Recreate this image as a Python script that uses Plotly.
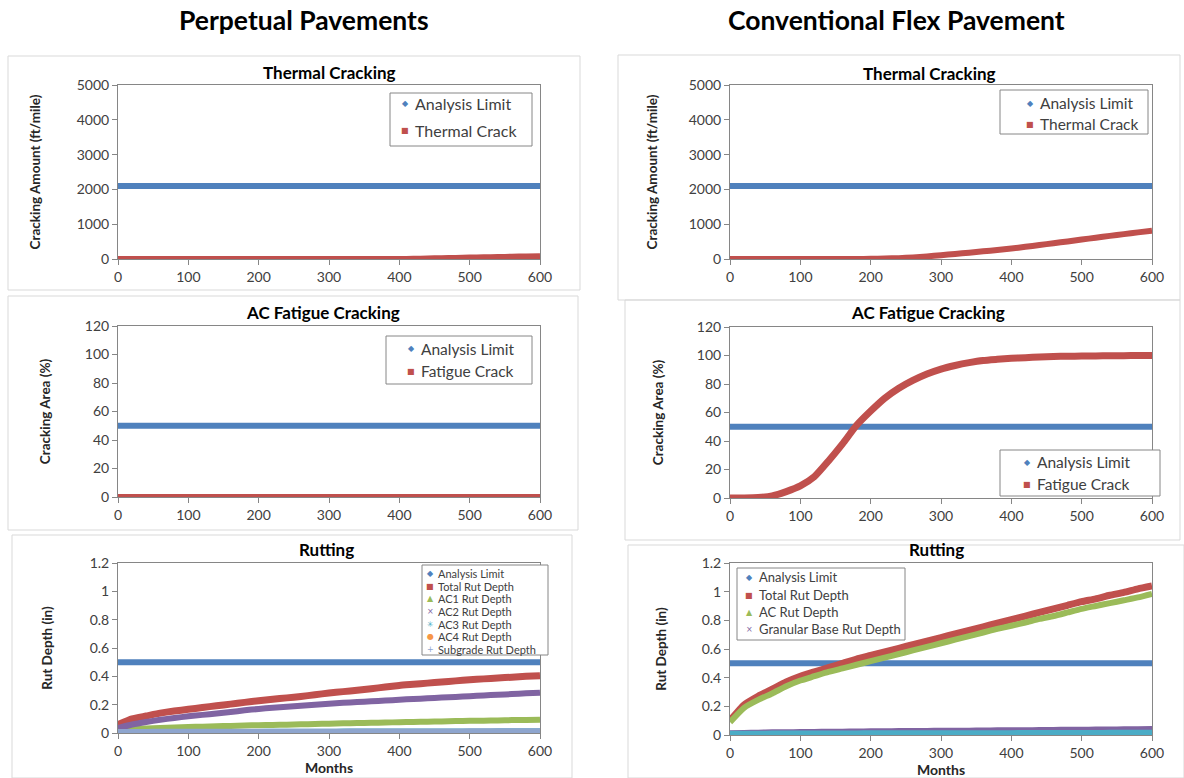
import plotly.graph_objects as go

# ---------------------------------------------------------------- data
months = [0, 20, 40, 60, 80, 100, 120, 140, 160, 180, 200, 220, 240, 260, 280, 300,
          320, 340, 360, 380, 400, 420, 440, 460, 480, 500, 520, 540, 560, 580, 600]
limit_months = [0, 600]

# Thermal cracking (ft/mile)
thermal_limit = [2100, 2100]
thermal_perpetual = [0, 0, 0, 0, 0, 0, 0, 0, 0, 0, 0, 0, 0, 0, 0, 0,
                     0, 0, 0, 0, 0, 5, 15, 22, 30, 40, 48, 56, 65, 72, 80]
thermal_conventional = [0, 0, 0, 0, 0, 0, 0, 0, 0, 2, 5, 12, 25, 45, 75, 110,
                        145, 180, 220, 260, 300, 350, 400, 455, 505, 560, 610, 665, 715, 765, 810]

# AC fatigue cracking (%)
fatigue_limit = [50, 50]
fatigue_perpetual = [0, 0, 0, 0, 0, 0, 0, 0, 0, 0, 0, 0, 0, 0, 0, 0,
                     0, 0, 0, 0, 0, 0, 0, 0, 0, 0, 0, 0, 0, 0, 0]
fatigue_conventional = [0, 0, 0.3, 1.5, 4.5, 8.5, 15, 26, 38, 51, 61, 70, 77, 82.5, 87, 90.5,
                        93, 95, 96.5, 97.3, 98, 98.5, 99, 99.3, 99.5, 99.6, 99.7, 99.8, 99.9, 100, 100]

# Rutting (in)
rut_limit = [0.5, 0.5]
pp_total = [0.06, 0.10, 0.12, 0.14, 0.155, 0.167, 0.18, 0.192, 0.204, 0.216, 0.228, 0.238, 0.248,
            0.258, 0.27, 0.282, 0.292, 0.302, 0.313, 0.324, 0.336, 0.344, 0.352, 0.36, 0.368,
            0.376, 0.382, 0.388, 0.394, 0.40, 0.405]
pp_ac1 = [0.022, 0.028, 0.032, 0.036, 0.039, 0.042, 0.045, 0.048, 0.05, 0.053, 0.055, 0.057, 0.059,
          0.061, 0.063, 0.066, 0.068, 0.07, 0.072, 0.074, 0.076, 0.078, 0.08, 0.082, 0.084, 0.086,
          0.087, 0.089, 0.091, 0.092, 0.094]
pp_ac2 = [0.035, 0.06, 0.078, 0.093, 0.106, 0.118, 0.128, 0.138, 0.148, 0.16, 0.17, 0.178, 0.185,
          0.192, 0.2, 0.207, 0.213, 0.218, 0.224, 0.229, 0.235, 0.24, 0.245, 0.25, 0.255, 0.26,
          0.265, 0.27, 0.275, 0.28, 0.285]
pp_ac3 = [0.018, 0.019, 0.02, 0.02, 0.021, 0.021, 0.021, 0.022, 0.022, 0.022, 0.022, 0.023, 0.023,
          0.023, 0.023, 0.023, 0.024, 0.024, 0.024, 0.024, 0.024, 0.025, 0.025, 0.025, 0.025, 0.025,
          0.025, 0.026, 0.026, 0.026, 0.026]
pp_ac4 = [0.001, 0.001, 0.001, 0.001, 0.001, 0.001, 0.001, 0.001, 0.001, 0.001, 0.001, 0.001, 0.001,
          0.001, 0.001, 0.002, 0.002, 0.002, 0.002, 0.002, 0.002, 0.002, 0.002, 0.002, 0.002, 0.002,
          0.002, 0.002, 0.002, 0.002, 0.002]
pp_subgrade = [0.004, 0.004, 0.004, 0.005, 0.005, 0.005, 0.005, 0.005, 0.005, 0.006, 0.006, 0.006,
               0.006, 0.006, 0.006, 0.006, 0.006, 0.007, 0.007, 0.007, 0.007, 0.007, 0.007, 0.007,
               0.007, 0.008, 0.008, 0.008, 0.008, 0.008, 0.008]

cf_total = [0.10, 0.21, 0.27, 0.32, 0.37, 0.41, 0.44, 0.47, 0.50, 0.53, 0.555, 0.58, 0.605, 0.63,
            0.655, 0.68, 0.705, 0.73, 0.755, 0.78, 0.805, 0.83, 0.855, 0.88, 0.905, 0.93, 0.95,
            0.975, 0.995, 1.02, 1.04]
cf_ac = [0.09, 0.19, 0.245, 0.29, 0.34, 0.38, 0.41, 0.44, 0.465, 0.49, 0.515, 0.54, 0.565, 0.59,
         0.615, 0.64, 0.665, 0.69, 0.715, 0.74, 0.762, 0.785, 0.81, 0.83, 0.855, 0.88, 0.90, 0.92,
         0.94, 0.96, 0.985]
cf_base = [0.015, 0.018, 0.02, 0.022, 0.023, 0.024, 0.025, 0.026, 0.027, 0.028, 0.029, 0.03, 0.031,
           0.031, 0.032, 0.033, 0.034, 0.034, 0.035, 0.036, 0.037, 0.037, 0.038, 0.039, 0.04, 0.04,
           0.041, 0.042, 0.043, 0.044, 0.045]
cf_subgrade = [0.008, 0.009, 0.009, 0.01, 0.01, 0.01, 0.011, 0.011, 0.011, 0.011, 0.012, 0.012,
               0.012, 0.012, 0.012, 0.013, 0.013, 0.013, 0.013, 0.013, 0.013, 0.014, 0.014, 0.014,
               0.014, 0.014, 0.014, 0.015, 0.015, 0.015, 0.015]

x_ticks = [0, 100, 200, 300, 400, 500, 600]

# ---------------------------------------------------------------- style
BLUE, RED, GREEN, PURPLE = "#4F81BD", "#C0504D", "#9BBB59", "#8064A2"
AQUA, ORANGE, LIGHTBLUE = "#4BACC6", "#F79646", "#8EA5CE"
FONT = "Lato, 'Open Sans', sans-serif"
TEXT = "#262626"
LABEL = "#404040"
AXIS_GRAY = "#868686"
W, H = 1184, 778


def fx(px):
    return px / W


def fy(py):
    return 1 - py / H


SYMBOL = {"diamond": "\u25C6", "square": "\u25A0", "triangle": "\u25B2", "x": "\u00D7",
          "asterisk": "\u2733", "circle": "\u25CF", "cross": "+"}

fig = go.Figure()


def add_series(n, x, y, name, color, band=6):
    xa = "x" if n == 1 else f"x{n}"
    ya = "y" if n == 1 else f"y{n}"
    fig.add_trace(go.Scatter(x=x, y=y, xaxis=xa, yaxis=ya, mode="lines", name=name,
                             line=dict(color=color, width=band, shape="spline", smoothing=0.5),
                             cliponaxis=False, showlegend=False))


add_series(1, limit_months, thermal_limit, "Analysis Limit", BLUE)
add_series(1, months, thermal_perpetual, "Thermal Crack", RED)
add_series(2, limit_months, thermal_limit, "Analysis Limit", BLUE)
add_series(2, months, thermal_conventional, "Thermal Crack", RED)
add_series(3, limit_months, fatigue_limit, "Analysis Limit", BLUE)
add_series(3, months, fatigue_perpetual, "Fatigue Crack", RED)
add_series(4, limit_months, fatigue_limit, "Analysis Limit", BLUE)
add_series(4, months, fatigue_conventional, "Fatigue Crack", RED, band=7)

add_series(5, limit_months, rut_limit, "Analysis Limit", BLUE)
add_series(5, months, pp_total, "Total Rut Depth", RED, band=7)
add_series(5, months, pp_ac1, "AC1 Rut Depth", GREEN)
add_series(5, months, pp_ac2, "AC2 Rut Depth", PURPLE)
add_series(5, months, pp_ac3, "AC3 Rut Depth", AQUA, band=2)
add_series(5, months, pp_ac4, "AC4 Rut Depth", ORANGE)
add_series(5, months, pp_subgrade, "Subgrade Rut Depth", LIGHTBLUE, band=7)

add_series(6, limit_months, rut_limit, "Analysis Limit", BLUE)
add_series(6, months, cf_total, "Total Rut Depth", RED, band=7)
add_series(6, months, cf_ac, "AC Rut Depth", GREEN, band=6)
add_series(6, months, cf_base, "Granular Base Rut Depth", PURPLE, band=5)
add_series(6, months, cf_subgrade, "Subgrade Rut Depth", AQUA, band=6)

# ---------------------------------------------------------------- axes
panels = {
    1: dict(box=(118, 85, 540, 259), yr=[0, 5000], dt=1000,
            ytitle="Cracking Amount (ft/mile)", standoff=32),
    2: dict(box=(730, 85, 1152, 259), yr=[0, 5000], dt=1000,
            ytitle="Cracking Amount (ft/mile)", standoff=27),
    3: dict(box=(118, 326, 540, 497), yr=[0, 120], dt=20,
            ytitle="Cracking Area (%)", standoff=31),
    4: dict(box=(730, 327, 1152, 498), yr=[0, 120], dt=20,
            ytitle="Cracking Area (%)", standoff=30),
    5: dict(box=(118, 563, 540, 733), yr=[0, 1.2], dt=0.2,
            ytitle="Rut Depth (in)", standoff=33),
    6: dict(box=(730, 563, 1152, 735), yr=[0, 1.2], dt=0.2,
            ytitle="Rut Depth (in)", standoff=31),
}

axis_common = dict(showgrid=False, zeroline=False, showline=True, linecolor=AXIS_GRAY,
                   linewidth=1, mirror=True, ticks="outside", ticklen=5, tickcolor=AXIS_GRAY,
                   automargin=False,
                   tickfont=dict(family=FONT, size=14, color=LABEL))

for n, p in panels.items():
    sx = "" if n == 1 else str(n)
    left, top, right, bottom = p["box"]
    xa = dict(axis_common, domain=[fx(left), fx(right)], range=[0, 600], tickvals=x_ticks,
              anchor=f"y{sx}")
    if n in (5, 6):
        xa["title"] = dict(text="<b>Months</b>", font=dict(family=FONT, size=14, color=TEXT),
                           standoff=2)
    ya = dict(axis_common, domain=[fy(bottom), fy(top)], range=p["yr"], dtick=p["dt"], tick0=0,
              anchor=f"x{sx}",
              title=dict(text=f"<b>{p['ytitle']}</b>",
                         font=dict(family=FONT, size=13.5, color=TEXT),
                         standoff=p["standoff"]))
    fig.layout[f"xaxis{sx}"] = xa
    fig.layout[f"yaxis{sx}"] = ya

# ---------------------------------------------------------------- legends
shapes = []
annotations = []


def add_legend(box, entries, rows, mark_x, text_x, size, mark_size):
    x0, y0, x1, y1 = box
    shapes.append(dict(type="rect", xref="paper", yref="paper", x0=fx(x0), x1=fx(x1),
                       y0=fy(y1), y1=fy(y0), line=dict(color=AXIS_GRAY, width=1),
                       fillcolor="white", layer="above"))
    for (sym, col, label), ry in zip(entries, rows):
        annotations.append(dict(x=fx(mark_x), y=fy(ry), xref="paper", yref="paper",
                                text=SYMBOL[sym], showarrow=False, xanchor="center",
                                yanchor="middle",
                                font=dict(family="DejaVu Sans", size=mark_size, color=col)))
        annotations.append(dict(x=fx(text_x), y=fy(ry), xref="paper", yref="paper", text=label,
                                showarrow=False, xanchor="left", yanchor="middle",
                                font=dict(family=FONT, size=size, color=LABEL)))


add_legend((390, 93, 532, 146), [("diamond", BLUE, "Analysis Limit"),
                                 ("square", RED, "Thermal Crack")],
           [104, 131], 405, 413, 16, 8)
add_legend((1000, 90, 1148, 134), [("diamond", BLUE, "Analysis Limit"),
                                   ("square", RED, "Thermal Crack")],
           [103, 124], 1030, 1038, 15.5, 8)
add_legend((386, 336, 532, 384), [("diamond", BLUE, "Analysis Limit"),
                                  ("square", RED, "Fatigue Crack")],
           [349, 371], 411, 419, 15.5, 8)
add_legend((1000, 450, 1160, 496), [("diamond", BLUE, "Analysis Limit"),
                                    ("square", RED, "Fatigue Crack")],
           [462, 484], 1027, 1035, 15.5, 8)
add_legend((422, 565, 548, 655), [("diamond", BLUE, "Analysis Limit"),
                                  ("square", RED, "Total Rut Depth"),
                                  ("triangle", GREEN, "AC1 Rut Depth"),
                                  ("x", PURPLE, "AC2 Rut Depth"),
                                  ("asterisk", AQUA, "AC3 Rut Depth"),
                                  ("circle", ORANGE, "AC4 Rut Depth"),
                                  ("cross", LIGHTBLUE, "Subgrade Rut Depth")],
           [573, 586, 598.5, 611, 624, 636.5, 649], 430, 436, 11, 8)
add_legend((737, 568, 905, 640), [("diamond", BLUE, "Analysis Limit"),
                                  ("square", RED, "Total Rut Depth"),
                                  ("triangle", GREEN, "AC Rut Depth"),
                                  ("x", PURPLE, "Granular Base Rut Depth")],
           [577, 595, 612, 629], 749, 757, 13, 8)

# chart-area frames
frames = [(8, 56, 580, 290), (618, 55, 1180, 300), (8, 296, 578, 530),
          (625, 300, 1180, 540), (12, 535, 572, 778), (628, 545, 1184, 778)]
for x0, y0, x1, y1 in frames:
    shapes.append(dict(type="rect", xref="paper", yref="paper", x0=fx(x0), x1=fx(x1),
                       y0=fy(y1), y1=fy(y0), line=dict(color="#D9D9D9", width=1),
                       layer="below"))

# headings and panel titles
headers = [("Perpetual Pavements", 304, 20, 26.5), ("Conventional Flex Pavement", 896, 20, 26.5),
           ("Thermal Cracking", 329, 73, 17), ("Thermal Cracking", 929, 74, 17),
           ("AC Fatigue Cracking", 323, 313, 17), ("AC Fatigue Cracking", 928, 312, 17),
           ("Rutting", 326, 549, 17), ("Rutting", 936, 549, 17)]
for text, cx, cy, size in headers:
    annotations.append(dict(x=fx(cx), y=fy(cy), xref="paper", yref="paper",
                            text=f"<b>{text}</b>", showarrow=False, xanchor="center",
                            yanchor="middle", font=dict(family=FONT, size=size, color="black")))

fig.update_layout(width=W, height=H, autosize=False, margin=dict(l=0, r=0, t=0, b=0),
                  paper_bgcolor="white", plot_bgcolor="white", shapes=shapes,
                  annotations=annotations, showlegend=False)

fig.write_html("out.html")
